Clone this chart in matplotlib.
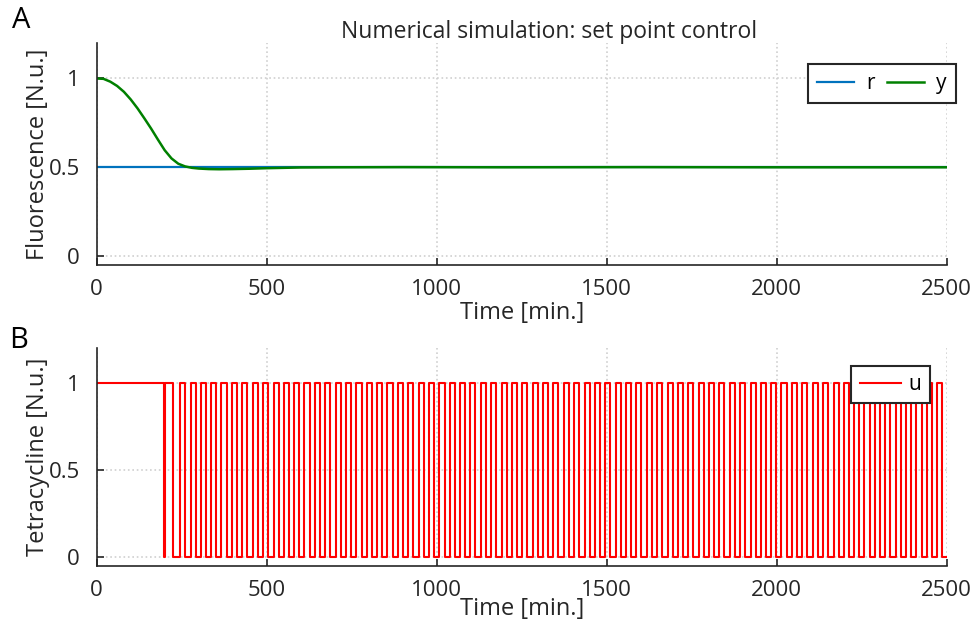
import numpy as np
import matplotlib.pyplot as plt

plt.rcParams['font.family'] = ['Open Sans', 'DejaVu Sans']

# reference r and output y (panel A)
r_t = [0, 2500]
r_val = [0.5, 0.5]

y_t = [0, 20, 40, 60, 80, 100, 120, 140, 160, 180, 200, 220, 240, 260, 280,
       300, 330, 360, 400, 450, 500, 600, 700, 900, 1200, 1600, 2000, 2500]
y_val = [1.0, 0.998, 0.982, 0.958, 0.925, 0.882, 0.832, 0.776, 0.718, 0.656,
         0.596, 0.55, 0.52, 0.505, 0.497, 0.493, 0.49, 0.489, 0.49, 0.492,
         0.495, 0.499, 0.5, 0.501, 0.5, 0.501, 0.5, 0.5]

# control input u (panel B): switching instants [min]
u_on = [0, 201, 245, 276, 306, 337, 367, 398, 428, 459, 489, 520, 550, 581,
        611, 642, 672, 703, 733, 764, 794, 825, 855, 886, 916, 947, 977, 1008,
        1038, 1069, 1099, 1130, 1160, 1191, 1221, 1252, 1282, 1313, 1343, 1374,
        1404, 1435, 1465, 1496, 1526, 1557, 1587, 1618, 1648, 1679, 1709, 1740,
        1770, 1801, 1831, 1862, 1892, 1923, 1953, 1984, 2014, 2045, 2075, 2106,
        2136, 2167, 2197, 2228, 2258, 2289, 2319, 2350, 2380, 2411, 2441, 2472]
u_off = [199, 223, 260, 291, 321, 352, 382, 413, 443, 474, 504, 535, 565, 596,
         626, 657, 687, 718, 748, 779, 809, 840, 870, 901, 931, 962, 992, 1023,
         1053, 1084, 1114, 1145, 1175, 1206, 1236, 1267, 1297, 1328, 1358, 1389,
         1419, 1450, 1480, 1511, 1541, 1572, 1602, 1633, 1663, 1694, 1724, 1755,
         1785, 1816, 1846, 1877, 1907, 1938, 1968, 1999, 2029, 2060, 2090, 2121,
         2151, 2182, 2212, 2243, 2273, 2304, 2334, 2365, 2395, 2426, 2456, 2487]
t_end = 2500

# build step signal from the switching instants
u_t, u_val = [], []
for on, off in zip(u_on, u_off):
    u_t += [on, off]
    u_val += [1, 0]
u_t.append(t_end)
u_val.append(0)

fig = plt.figure(figsize=(9.71, 6.29), dpi=100)
axA = fig.add_axes([0.0996, 0.5787, 0.8754, 0.353])
axB = fig.add_axes([0.0996, 0.1002, 0.8754, 0.3466])

blue = (0.0, 0.447, 0.741)
green = (0.0, 0.5, 0.0)
red = (1.0, 0.0, 0.0)
dark = '#262626'

axA.plot(r_t, r_val, color=blue, lw=1.6, label='r')
axA.plot(y_t, y_val, color=green, lw=1.8, label='y')
axB.step(u_t, u_val, where='post', color=red, lw=1.5, label='u')

for ax in (axA, axB):
    ax.set_xlim(0, 2500)
    ax.set_ylim(-0.05, 1.2)
    ax.set_xticks([0, 500, 1000, 1500, 2000, 2500])
    ax.set_yticks([0, 0.5, 1])
    ax.set_yticklabels(['0', '0.5', '1'])
    ax.spines['top'].set_visible(False)
    ax.spines['right'].set_visible(False)
    for s in ('left', 'bottom'):
        ax.spines[s].set_color(dark)
        ax.spines[s].set_linewidth(1.2)
    ax.tick_params(direction='in', length=5, width=1.2, labelsize=16,
                   colors=dark, labelcolor=dark, pad=10)
    ax.tick_params(axis='y', pad=12)
    ax.grid(True, linestyle=':', color='#d0d0d0', linewidth=1.2)
    ax.set_axisbelow(True)

axA.set_xlabel('Time [min.]', fontsize=17, labelpad=1, color=dark)
axB.set_xlabel('Time [min.]', fontsize=17, labelpad=-3, color=dark)
axA.set_ylabel('Fluorescence [N.u.]', fontsize=17, labelpad=-1, color=dark)
axB.set_ylabel('Tetracycline [N.u.]', fontsize=17, labelpad=-1, color=dark)

fig.text(549 / 971, 1 - 32 / 629, 'Numerical simulation: set point control',
         ha='center', va='center', fontsize=16.5, color=dark)
fig.text(12 / 971, 1 - 21 / 629, 'A', ha='left', va='center', fontsize=21)
fig.text(9 / 971, 1 - 341 / 629, 'B', ha='left', va='center', fontsize=21)

legA = axA.legend(ncol=2, loc='center', bbox_to_anchor=(882 / 971, 1 - 83.5 / 629),
                  bbox_transform=fig.transFigure, borderaxespad=0, fontsize=15,
                  frameon=True, fancybox=False, edgecolor=dark, framealpha=1,
                  handlelength=1.75, columnspacing=0.6, borderpad=0.45,
                  handletextpad=0.6)
legA.get_frame().set_linewidth(1.5)
legB = axB.legend(loc='center', bbox_to_anchor=(890.5 / 971, 1 - 384.5 / 629),
                  bbox_transform=fig.transFigure, borderaxespad=0, fontsize=15,
                  frameon=True, fancybox=False, edgecolor=dark, framealpha=1,
                  handlelength=2.0, borderpad=0.4, handletextpad=0.35)
legB.get_frame().set_linewidth(1.5)

fig.savefig('out.png', dpi=100)
